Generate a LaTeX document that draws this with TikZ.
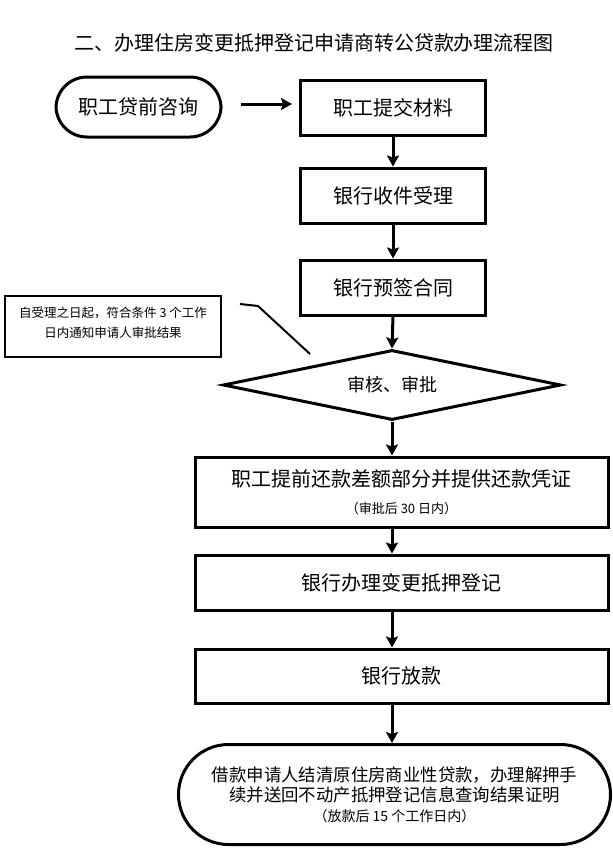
\documentclass[tikz,border=0pt]{standalone}
\usepackage{fontspec}
\setmainfont{Noto Sans CJK SC}
\usetikzlibrary{shapes.geometric,arrows.meta,positioning}

\begin{document}
\begin{tikzpicture}[
  x=1pt, y=-1pt,
  every node/.style={font=\fontsize{20}{24}\selectfont},
  stepbox/.style={draw, line width=3pt, minimum width=185pt, minimum height=55pt,
              inner sep=0pt, align=center},
  widebox/.style={stepbox, minimum width=413pt},
  pill/.style={draw, line width=3pt, rounded corners=31pt, minimum width=165pt,
              minimum height=60pt, align=center},
  check/.style={draw, diamond, line width=3pt, aspect=4.8, minimum width=338pt,
              minimum height=70pt, inner sep=0pt, font=\fontsize{18}{22}\selectfont},
  notebox/.style={draw, line width=2pt, minimum width=216pt, minimum height=61pt},
  arr/.style={-{Stealth[length=11pt,width=12pt,inset=2pt]}, line width=3pt}
]
\useasboundingbox (0,0) rectangle (613,865);

\node (title) at (314,43) {二、办理住房变更抵押登记申请商转公贷款办理流程图};

\node[pill] (consult) at (138.5,107) {职工贷前咨询};
\node[stepbox] (submit)  at (393,107.5) {职工提交材料};
\node[stepbox] (accept)  at (393,195.5) {银行收件受理};
\node[stepbox] (presign) at (393,287.5) {银行预签合同};
\node[check]   (review)  at (392,385)   {审核、审批};
\node[widebox, minimum height=70pt] (repay) at (401.5,492)
  {职工提前还款差额部分并提供还款凭证\\[3pt]{\fontsize{13}{15}\selectfont （审批后 30 日内）}};
\node[widebox] (register) at (401.5,582.5) {银行办理变更抵押登记};
\node[widebox, minimum height=54pt] (loan) at (401.5,676) {银行放款};
\node[pill, rounded corners=50pt, minimum width=432pt, minimum height=100pt,
      font=\fontsize{17.4}{20}\selectfont] (settle) at (394.5,794.5)
  {借款申请人结清原住房商业性贷款，办理解押手\\续并送回不动产抵押登记信息查询结果证明\\
   {\fontsize{14}{20}\selectfont （放款后 15 个工作日内）}};

% note on the review step
\node[notebox] (note) at (113,326.5) {};
\node[anchor=north, inner sep=0pt, align=center, font=\fontsize{12.5}{20}\selectfont]
  (notetext) at ([yshift=-12pt]note.north)
  {自受理之日起，符合条件 3 个工作\\日内通知申请人审批结果};
\coordinate (lead1) at (240,304);
\coordinate (lead2) at (258,306);
\coordinate (lead3) at (310,354);
\draw[line width=2pt] (lead1) -- (lead2) -- (lead3);

\draw[arr, shorten <=18pt, shorten >=7pt] (consult.east |- 0,104) -- (submit.west |- 0,104);
\draw[arr] (submit) -- (accept);
\draw[arr] (accept) -- (presign);
\draw[arr] (presign.south) -- (review.north);
\draw[arr] (review.south) -- (review.south |- repay.north);
\draw[arr] (review.south |- repay.south) -- (review.south |- register.north);
\draw[arr] (review.south |- register.south) -- (review.south |- loan.north);
\draw[arr] (review.south |- loan.south) -- (review.south |- settle.north);
\end{tikzpicture}
\end{document}
